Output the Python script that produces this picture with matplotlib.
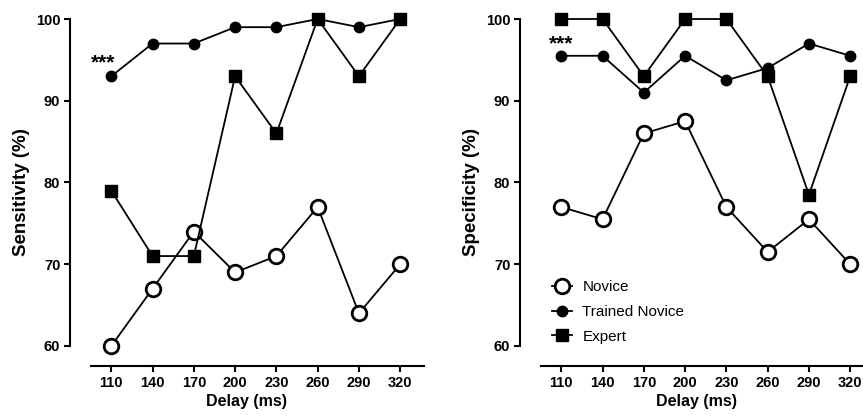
import matplotlib
matplotlib.use('Agg')
import matplotlib.pyplot as plt

plt.rcParams['font.family'] = ['Liberation Sans', 'DejaVu Sans']

delays = [110, 140, 170, 200, 230, 260, 290, 320]
groups = ['Novice', 'Trained Novice', 'Expert']

sens_novice = [60, 67, 74, 69, 71, 77, 64, 70]
sens_trained = [93, 97, 97, 99, 99, 100, 99, 100]
sens_expert = [79, 71, 71, 93, 86, 100, 93, 100]

spec_novice = [77, 75.5, 86, 87.5, 77, 71.5, 75.5, 70]
spec_trained = [95.5, 95.5, 91, 95.5, 92.5, 94, 97, 95.5]
spec_expert = [100, 100, 93, 100, 100, 93, 78.5, 93]

yticks = [60, 70, 80, 90, 100]

styles = [
    dict(marker='o', markersize=10.5, markerfacecolor='white', markeredgewidth=2),
    dict(marker='o', markersize=7.5, markerfacecolor='black', markeredgewidth=1),
    dict(marker='s', markersize=8, markerfacecolor='black', markeredgewidth=1),
]


def draw_panel(ax, series, ylabel, stars_xy):
    for vals, name, st in zip(series, groups, styles):
        ax.plot(delays, vals, color='black', linewidth=1.3, markeredgecolor='black',
                label=name, clip_on=False, zorder=3, **st)
    ax.set_xlim(80, 337)
    ax.set_ylim(57.55, 100)
    ax.set_xticks(delays)
    ax.set_yticks(yticks)
    ax.spines['top'].set_visible(False)
    ax.spines['right'].set_visible(False)
    ax.spines['left'].set_bounds(60, 100)
    ax.spines['bottom'].set_bounds(95, 337)
    ax.spines['left'].set_linewidth(1.5)
    ax.spines['bottom'].set_linewidth(1.5)
    ax.tick_params(width=1.5, length=4, labelsize=10.5, pad=3)
    for lab in ax.get_xticklabels() + ax.get_yticklabels():
        lab.set_fontweight('bold')
    ax.set_xlabel('Delay (ms)', fontsize=11.5, fontweight='bold', labelpad=3)
    ax.set_ylabel(ylabel, fontsize=13.5, fontweight='bold', labelpad=4)
    ax.text(stars_xy[0], stars_xy[1], '***', fontsize=15, fontweight='bold',
            ha='center', va='center')


fig = plt.figure(figsize=(8.63, 4.17), dpi=100)
W, H = 863, 417
ax1 = fig.add_axes([70 / W, (H - 366) / H, 353.6 / W, 347 / H])
ax2 = fig.add_axes([520 / W, (H - 366) / H, 353.6 / W, 347 / H])

draw_panel(ax1, [sens_novice, sens_trained, sens_expert], 'Sensitivity (%)', (104, 94.6))
draw_panel(ax2, [spec_novice, spec_trained, spec_expert], 'Specificity (%)', (110, 97.0))

ax2.legend(loc='upper left', bbox_to_anchor=(0.073, 0.265), frameon=False,
           fontsize=11, handlelength=1.3, handletextpad=0.7, labelspacing=0.7,
           borderaxespad=0)

fig.savefig('out.png', dpi=100)
